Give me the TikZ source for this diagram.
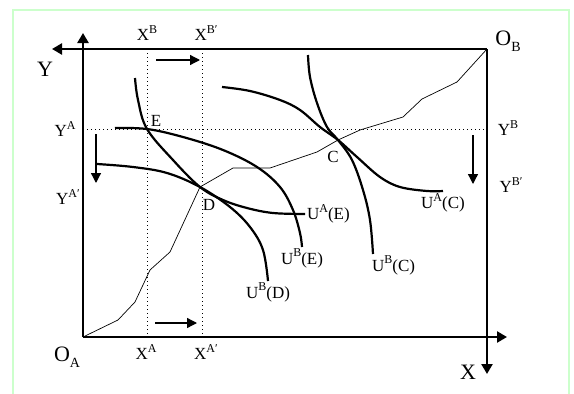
\documentclass[tikz,border=0pt]{standalone}
\usepackage{fontspec}
\setmainfont{Liberation Serif}
\usepackage{tikz}
\usetikzlibrary{arrows.meta}
\definecolor{frame-green}{HTML}{CCFFCC}
\definecolor{box-dark}{HTML}{000000}
\newcommand{\upidx}[1]{\raisebox{0.42em}{\fontsize{12}{12}\selectfont #1}}
\newcommand{\lowidx}[1]{\raisebox{-0.25em}{\fontsize{14}{14}\selectfont #1}}

\begin{document}
\begin{tikzpicture}[x=1pt, y=-1pt,
    edgeaxis/.style={box-dark, line width=2.4pt, -{Triangle[length=10pt, width=11pt]}},
    move/.style={box-dark, line width=1.3pt, -{Triangle[length=10pt, width=10pt]}},
    guide/.style={box-dark, line width=0.9pt, dash pattern=on 1pt off 3pt},
    indiff/.style={box-dark, line width=2.2pt},
    contract/.style={box-dark, line width=0.7pt},
    txt/.style={font=\fontsize{17}{19}\selectfont, inner sep=0pt},
    big/.style={font=\fontsize{22}{24}\selectfont, inner sep=0pt},
]
    \def\xl{83}
    \def\xr{487}
    \def\yt{49}
    \def\yb{337}

    % Canvas and frame
    \useasboundingbox (0,0) rectangle (574,394);
    \fill[white] (0,0) rectangle (574,394);
    \draw[frame-green, line width=2pt] (13,394) -- (13,10) -- (569,10) -- (569,394);

    % Box corners
    \coordinate (OA) at (\xl,\yb);
    \coordinate (OB) at (\xr,\yt);
    \coordinate (Yend) at (52,\yt);
    \coordinate (Uend) at (\xl,33);
    \coordinate (Xend) at (507,\yb);
    \coordinate (Dend) at (\xr,374);

    % Edgeworth box
    \draw[edgeaxis] (OB) -- (Yend);
    \draw[edgeaxis] (OA) -- (Uend);
    \draw[edgeaxis] (OA) -- (Xend);
    \draw[edgeaxis] (OB) -- (Dend);

    % Guide lines
    \coordinate (xb) at (147,\yt);   \coordinate (xa) at (147,\yb);
    \coordinate (xbp) at (202,\yt);  \coordinate (xap) at (202,\yb);
    \coordinate (ya) at (\xl,129);   \coordinate (yb) at (\xr,129);
    \draw[guide] (xb) -- (xa);
    \draw[guide] (xbp) -- (xap);
    \draw[guide] (ya) -- (yb);

    % Contract curve
    \draw[contract] (OA) -- (118,320) -- (135,302) -- (150,270) -- (170,252)
        -- (200,187) -- (233,168) -- (270,168) -- (317,152) -- (338,140)
        -- (360,130) -- (403,117) -- (422,99) -- (457,82) -- (OB);

    % Indifference curves
    \draw[indiff] plot[smooth, tension=0.6] coordinates {(135,78) (138,100) (147,129)
        (173,160) (200,187) (223,200) (247,208) (273,213) (305,214)}
        node[txt, anchor=west, xshift=1pt] (uae) {U\upidx{A}(E)};
    \draw[indiff] plot[smooth, tension=0.6] coordinates {(115,128) (147,129) (183,137)
        (223,150) (257,167) (280,187) (293,210) (300,233) (302,247)}
        node[txt, anchor=north, yshift=-1pt] (ube) {U\upidx{B}(E)};
    \draw[indiff] plot[smooth, tension=0.6] coordinates {(97,164) (133,167) (167,173)
        (200,187) (230,207) (250,227) (263,250) (268,281)}
        node[txt, anchor=north, yshift=-1pt] (ubd) {U\upidx{B}(D)};
    \draw[indiff] plot[smooth, tension=0.6] coordinates {(222,87) (250,91) (280,100)
        (300,110) (320,127) (338,140) (357,157) (380,177) (400,187) (427,191) (443,191)}
        node[txt, anchor=north, yshift=-1pt] (uac) {U\upidx{A}(C)};
    \draw[indiff] plot[smooth, tension=0.6] coordinates {(308,55) (310,77) (317,103)
        (327,127) (338,140) (352,160) (363,190) (370,220) (373,254)}
        node[txt, anchor=north west, xshift=-2pt, yshift=-1pt] (ubc) {U\upidx{B}(C)};

    % Points
    \node[txt] (E) at (156,121) {E};
    \node[txt] (D) at (209,205) {D};
    \node[txt] (C) at (333,157) {C};

    % Shift arrows
    \coordinate (t0) at (156,60);  \coordinate (t1) at (200,60);
    \coordinate (b0) at (155,323); \coordinate (b1) at (197,323);
    \coordinate (l0) at (96,134);  \coordinate (l1) at (96,183);
    \coordinate (r0) at (473,135); \coordinate (r1) at (473,184);
    \draw[move] (t0) -- (t1);
    \draw[move] (b0) -- (b1);
    \draw[move] (l0) -- (l1);
    \draw[move] (r0) -- (r1);

    % Axis labels
    \node[txt] (lxb) at (147,33) {X\upidx{B}};
    \node[txt] (lxbp) at (206,33) {X\upidx{B′}};
    \node[txt] (lxa) at (146,352) {X\upidx{A}};
    \node[txt] (lxap) at (206,352) {X\upidx{A′}};
    \node[txt] (lya) at (65,129) {Y\upidx{A}};
    \node[txt] (lyap) at (68,197) {Y\upidx{A′}};
    \node[txt] (lyb) at (508,128) {Y\upidx{B}};
    \node[txt] (lybp) at (511,185) {Y\upidx{B′}};
    \node[big] (lY) at (45,69) {Y};
    \node[big] (lX) at (468,372) {X};
    \node[big] (lOA) at (67,357) {O\lowidx{A}};
    \node[big] (lOB) at (508,41) {O\lowidx{B}};

\end{tikzpicture}
\end{document}
